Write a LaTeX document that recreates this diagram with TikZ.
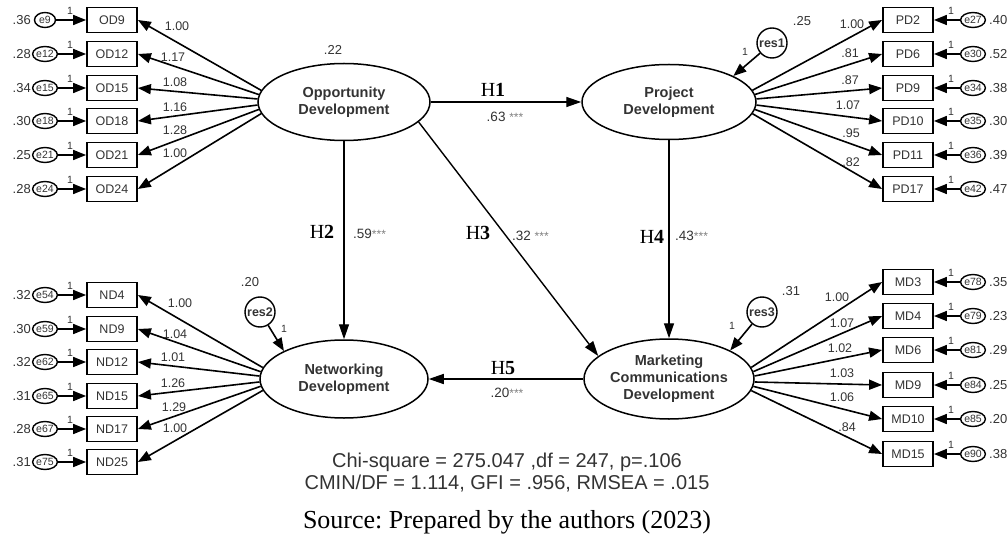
\documentclass[tikz,border=0pt]{standalone}
\usepackage{fontspec}
\setmainfont{Liberation Sans}
\newfontfamily\tnr{Liberation Serif}
\usetikzlibrary{arrows.meta,shapes.geometric}
\definecolor{txt}{gray}{0.2}
\definecolor{star}{gray}{0.5}
\newcommand{\stars}{\textcolor{star}{\fontsize{12}{12}\selectfont***}}
\frenchspacing
\begin{document}
\begin{tikzpicture}[x=1pt,y=-1pt,
 obs/.style={draw, line width=1.8pt, minimum width=50pt, minimum height=25pt, inner sep=0pt, font=\fontsize{12.5}{12.5}\selectfont, text=txt},
 err/.style={draw, ellipse, line width=1.4pt, minimum width=21pt, minimum height=15pt, inner sep=0pt, font=\fontsize{10.5}{10.5}\selectfont, text=txt},
 res/.style={draw, circle, line width=1.4pt, minimum size=30pt, inner sep=0pt, font=\bfseries\fontsize{12.5}{12.5}\selectfont, text=txt},
 lat/.style={draw, ellipse, line width=1.5pt, align=center, inner sep=0pt, font=\bfseries\fontsize{14.5}{17}\selectfont, text=txt},
 lab/.style={inner sep=0pt, font=\fontsize{12.5}{12.5}\selectfont, text=txt},
 var/.style={inner sep=0pt, font=\fontsize{13}{13}\selectfont, text=txt},
 one/.style={inner sep=0pt, font=\fontsize{10.5}{10.5}\selectfont, text=txt},
 coef/.style={inner sep=0pt, font=\fontsize{13.5}{13.5}\selectfont, text=txt},
 ind/.style={line width=1.6pt, -{Triangle[length=13pt,width=10pt]}},
 hyp/.style={line width=1.4pt, -{Triangle[length=15pt,width=10pt]}},
 hl/.style={inner sep=0pt, font=\tnr\fontsize{20}{20}\selectfont},
]
\useasboundingbox (0,0) rectangle (1008,537);

% latent variables
\node[lat, minimum width=172pt, minimum height=77pt] (OD) at (344,102) {Opportunity\\Development};
\node[lat, minimum width=174pt, minimum height=75pt] (PD) at (669,102) {Project\\Development};
\node[lat, minimum width=168pt, minimum height=78pt] (ND) at (344,379) {Networking\\Development};
\node[lat, minimum width=170pt, minimum height=80pt] (MD) at (669,379) {Marketing\\Communications\\Development};

% OD indicators (left top)
\foreach \nm/\en/\ev/\y/\ang/\ld/\lx/\ly in {
 OD9/e9/.36/20/172/1.00/177/26,
 OD12/e12/.28/54/175/1.17/173/57,
 OD15/e15/.34/88/178/1.08/175/82,
 OD18/e18/.30/121/182/1.16/175/107,
 OD21/e21/.25/155/185/1.28/175/130,
 OD24/e24/.28/189/188/1.00/175/153}{
 \node[obs] (\nm) at (112,\y) {\nm};
 \node[err] (\en) at (45,\y) {\en};
 \node[var, anchor=east] (v\en) at (31,\y) {\ev};
 \node[one] (o\en) at (70,\y-9) {1};
 \draw[ind] (\en) -- (\nm);
 \draw[ind] (OD.\ang) -- (\nm.east);
 \node[lab] (l\nm) at (\lx,\ly) {\ld};
}

% ND indicators (left bottom)
\foreach \nm/\en/\ev/\y/\ang/\ld/\lx/\ly in {
 ND4/e54/.32/295/172/1.00/180/303,
 ND9/e59/.30/329/175/1.04/175/334,
 ND12/e62/.32/362/178/1.01/173/357,
 ND15/e65/.31/396/182/1.26/173/383,
 ND17/e67/.28/429/185/1.29/174/407,
 ND25/e75/.31/462/188/1.00/175/428}{
 \node[obs] (\nm) at (112,\y) {\nm};
 \node[err] (\en) at (45,\y) {\en};
 \node[var, anchor=east] (v\en) at (31,\y) {\ev};
 \node[one] (o\en) at (70,\y-9) {1};
 \draw[ind] (\en) -- (\nm);
 \draw[ind] (ND.\ang) -- (\nm.east);
 \node[lab] (l\nm) at (\lx,\ly) {\ld};
}

% PD indicators (right top)
\foreach \nm/\en/\ev/\y/\ang/\ld/\lx/\ly in {
 PD2/e27/.40/20/8/1.00/852/24,
 PD6/e30/.52/54/5/.81/850/53,
 PD9/e34/.38/88/2/.87/850/80,
 PD10/e35/.30/121/-2/1.07/848/105,
 PD11/e36/.39/155/-5/.95/851/133,
 PD17/e42/.47/189/-8/.82/851/162}{
 \node[obs] (\nm) at (908,\y) {\nm};
 \node[err] (\en) at (973,\y) {\en};
 \node[var, anchor=west] (v\en) at (989,\y) {\ev};
 \node[one] (o\en) at (951,\y-9) {1};
 \draw[ind] (\en) -- (\nm);
 \draw[ind] (PD.\ang) -- (\nm.west);
 \node[lab] (l\nm) at (\lx,\ly) {\ld};
}

% MD indicators (right bottom)
\foreach \nm/\en/\ev/\y/\ang/\ld/\lx/\ly in {
 MD3/e78/.35/282/8/1.00/837/297,
 MD4/e79/.23/316/5/1.07/842/323,
 MD6/e81/.29/350/2/1.02/840/348,
 MD9/e84/.25/385/-2/1.03/842/373,
 MD10/e85/.20/419/-5/1.06/842/397,
 MD15/e90/.38/454/-8/.84/847/427}{
 \node[obs] (\nm) at (908,\y) {\nm};
 \node[err] (\en) at (973,\y) {\en};
 \node[var, anchor=west] (v\en) at (989,\y) {\ev};
 \node[one] (o\en) at (951,\y-9) {1};
 \draw[ind] (\en) -- (\nm);
 \draw[ind] (MD.\ang) -- (\nm.west);
 \node[lab] (l\nm) at (\lx,\ly) {\ld};
}

% residuals
\node[res] (res1) at (772,43) {res1};
\node[res] (res2) at (260,312) {res2};
\node[res] (res3) at (762,312) {res3};
\draw[ind] (res1) -- (PD.22);
\draw[ind] (res2) -- (ND.155);
\draw[ind] (res3) -- (MD.25);
\node[one] (ores1) at (745,52) {1};
\node[one] (ores2) at (284,329) {1};
\node[one] (ores3) at (732,326) {1};

% squared multiple correlations
\node[var] (rOD) at (333,50) {.22};
\node[var] (rPD) at (802,21) {.25};
\node[var] (rND) at (250,282) {.20};
\node[var] (rMD) at (791,291) {.31};

% structural paths
\draw[hyp] (OD) -- (PD);
\draw[hyp] (OD) -- (ND);
\draw[hyp] (OD.-15) -- (MD.162);
\draw[hyp] (PD) -- (MD);
\draw[hyp] (MD) -- (ND);

\node[hl] (h1) at (493,90) {H\textbf{1}};
\node[coef] (c1) at (505,117) {.63 \stars};
\node[hl] (h2) at (322,232) {H\textbf{2}};
\node[coef, anchor=west] (c2) at (353,234) {.59\stars};
\node[hl] (h3) at (478,233) {H\textbf{3}};
\node[coef, anchor=west] (c3) at (512,236) {.32 \stars};
\node[hl] (h4) at (652,237) {H\textbf{4}};
\node[coef, anchor=west] (c4) at (675,236) {.43\stars};
\node[hl] (h5) at (503,368) {H\textbf{5}};
\node[coef] (c5) at (507,393) {.20\stars};

% fit indices and source
\node[inner sep=0pt, font=\fontsize{20}{20}\selectfont, text=txt] (fit1) at (507,462) {Chi-square = 275.047 ,df = 247, p=.106};
\node[inner sep=0pt, font=\fontsize{20}{20}\selectfont, text=txt] (fit2) at (507,484) {CMIN/DF = 1.114, GFI = .956, RMSEA = .015};
\node[inner sep=0pt, font=\tnr\fontsize{26}{26}\selectfont] (src) at (507,522) {Source: Prepared by the authors (2023)};
\end{tikzpicture}
\end{document}
